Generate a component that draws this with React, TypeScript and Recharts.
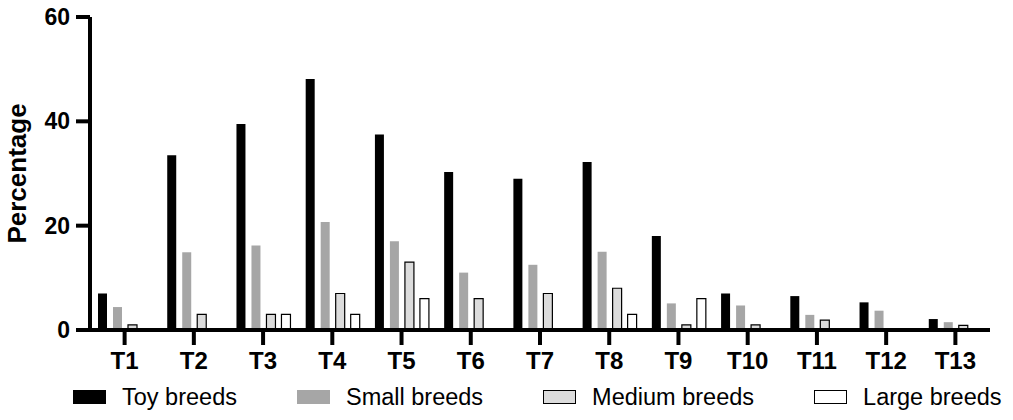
import {Bar, BarChart, Legend, XAxis, YAxis} from "recharts";

const categories = ["T1", "T2", "T3", "T4", "T5", "T6", "T7", "T8", "T9", "T10", "T11", "T12", "T13"];
const toyBreeds = [7, 33.5, 39.5, 48.1, 37.5, 30.3, 29, 32.2, 18, 7, 6.5, 5.3, 2.1];
const smallBreeds = [4.4, 14.9, 16.2, 20.7, 17, 11, 12.5, 15, 5.1, 4.7, 2.9, 3.7, 1.5];
const mediumBreeds = [1, 3, 3, 7, 13, 6, 7, 8, 1, 1, 1.9, 0, 0.9];
const largeBreeds = [0, 0, 3, 3, 6, 0, 0, 3, 6, 0, 0, 0, 0];
const yTicks = [0, 20, 40, 60];
const seriesOrder = ["toy", "small", "medium", "large"];

const data = categories.map((name, i) => ({
    name,
    toy: toyBreeds[i],
    small: smallBreeds[i],
    medium: mediumBreeds[i],
    large: largeBreeds[i],
}));

const FONT = "'Liberation Sans', Arial, sans-serif";

const LegendContent = (props: any) => {
    const items = [...(props.payload || [])].sort(
        (a: any, b: any) => seriesOrder.indexOf(a.dataKey) - seriesOrder.indexOf(b.dataKey)
    );
    return (
        <div style={{
            display: "flex", alignItems: "center", paddingLeft: 73, height: 40, width: 1000,
            fontFamily: FONT, fontSize: 23.5, whiteSpace: "nowrap", transform: "translateY(-3px)",
        }}>
            {items.map((item: any) => (
                <div key={item.value} style={{display: "flex", alignItems: "center", marginRight: 60}}>
                    <span style={{
                        display: "inline-block",
                        width: 33,
                        height: 14,
                        background: item.payload.fill,
                        border: item.payload.stroke ? "1px solid #000" : "none",
                        boxSizing: "border-box",
                        marginRight: 16,
                    }}/>
                    <span style={{color: "#000"}}>{item.value}</span>
                </div>
            ))}
        </div>
    );
};

const App = () => {
    return (
        <div style={{position: "absolute", left: 0, top: 0, background: "#fff"}}>
            <BarChart
                width={1013}
                height={420}
                data={data}
                barSize={9}
                barGap={6}
                margin={{top: 17, right: 23, left: 0, bottom: 0}}
            >
                <XAxis
                    dataKey="name"
                    stroke="#000"
                    strokeWidth={4}
                    tickSize={15}
                    tickMargin={7}
                    height={50}
                    tick={{fill: "#000", fontSize: 24, fontWeight: "bold", fontFamily: FONT}}
                />
                <YAxis
                    domain={[0, 60]}
                    ticks={yTicks}
                    stroke="#000"
                    strokeWidth={4}
                    width={90}
                    tickSize={14}
                    tickMargin={6}
                    tick={{fill: "#000", fontSize: 23, fontWeight: "bold", fontFamily: FONT}}
                    label={{
                        value: "Percentage",
                        angle: -90,
                        position: "insideLeft",
                        offset: 17,
                        style: {fill: "#000", fontSize: 26, fontWeight: "bold", fontFamily: FONT, textAnchor: "middle"},
                    }}
                />
                <Legend verticalAlign="bottom" align="left" content={<LegendContent/>}/>
                <Bar dataKey="toy" name="Toy breeds" fill="#000" isAnimationActive={false}/>
                <Bar dataKey="small" name="Small breeds" fill="#a6a6a6" isAnimationActive={false}/>
                <Bar dataKey="medium" name="Medium breeds" fill="#dcdcdc" stroke="#000" strokeWidth={1.2} isAnimationActive={false}/>
                <Bar dataKey="large" name="Large breeds" fill="#fff" stroke="#000" strokeWidth={1.2} isAnimationActive={false}/>
            </BarChart>
        </div>
    );
};

export default App;
